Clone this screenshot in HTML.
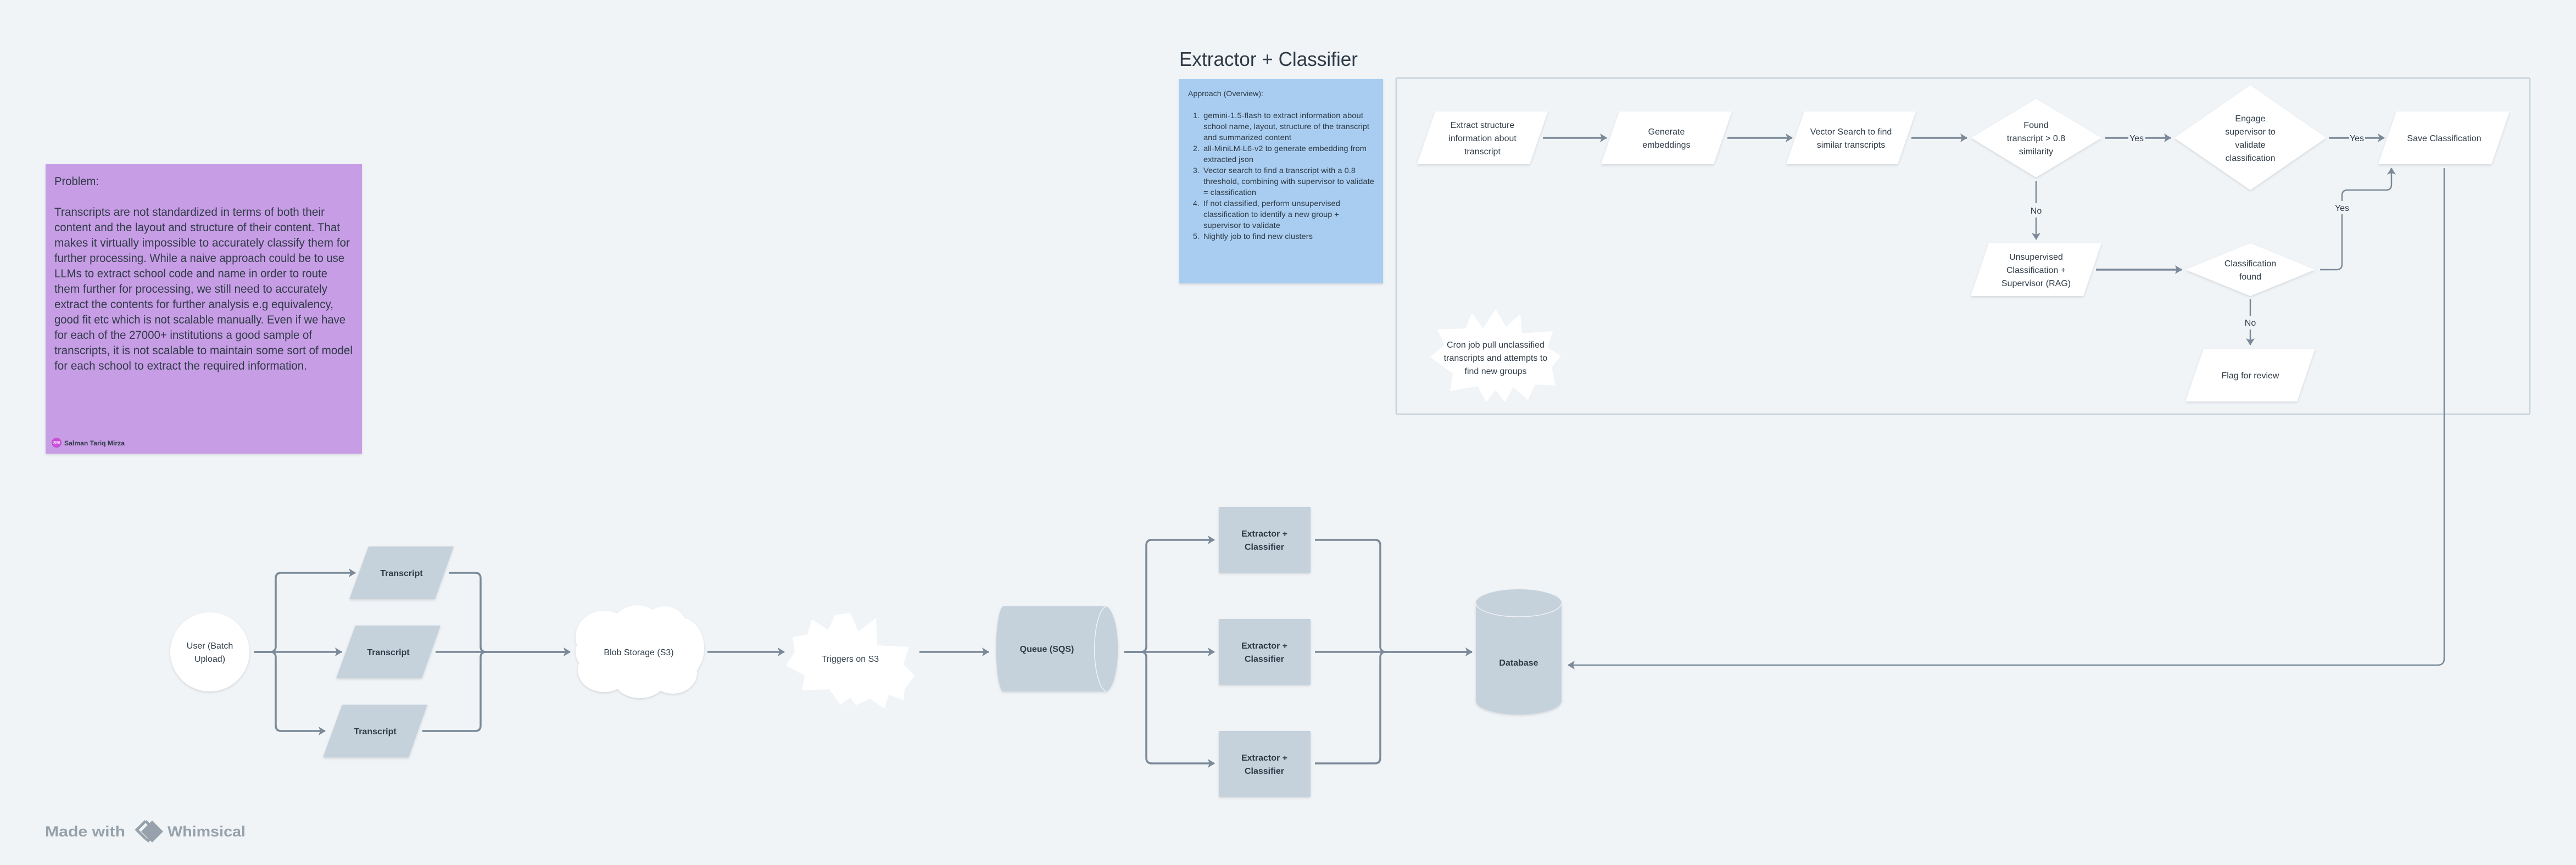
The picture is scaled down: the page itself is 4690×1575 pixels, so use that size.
<!DOCTYPE html>
<html><head><meta charset="utf-8">
<style>
html,body{margin:0;padding:0;background:#f0f4f7;}
svg{display:block;}
text{font-family:"Liberation Sans",sans-serif;fill:#2f3b47;}
.n{font-size:16px;text-anchor:middle;}
.b{font-size:16px;font-weight:bold;text-anchor:middle;}
.l{font-size:16px;text-anchor:middle;}
.c{fill:none;stroke:#7b8998;stroke-width:3.5;}
.c2{fill:none;stroke:#7b8998;stroke-width:2.5;}
.w{fill:#ffffff;}
.g{fill:#c5d1db;}
</style></head>
<body>
<svg width="4690" height="1575" viewBox="0 0 4690 1575" xmlns="http://www.w3.org/2000/svg">
<defs>
<marker id="a" markerUnits="userSpaceOnUse" markerWidth="14" markerHeight="16" refX="12" refY="8" orient="auto">
<path d="M0,0 L13,8 L0,16 L3,8 Z" fill="#7b8998"/>
</marker>
<filter id="sh" x="-5%" y="-5%" width="110%" height="115%"><feDropShadow dx="0" dy="2" stdDeviation="2" flood-color="#000" flood-opacity="0.12"/></filter>
</defs>
<rect width="4690" height="1575" fill="#f0f4f7"/>

<!-- Problem card -->
<rect x="83" y="299" width="576" height="527" fill="#c79de5" filter="url(#sh)"/>
<g font-size="21">
<text x="99" y="337" textLength="81" lengthAdjust="spacingAndGlyphs">Problem:</text>
<text x="99" y="393" textLength="492" lengthAdjust="spacingAndGlyphs">Transcripts are not standardized in terms of both their</text>
<text x="99" y="421" textLength="520" lengthAdjust="spacingAndGlyphs">content and the layout and structure of their content. That</text>
<text x="99" y="449" textLength="538" lengthAdjust="spacingAndGlyphs">makes it virtually impossible to accurately classify them for</text>
<text x="99" y="477" textLength="528" lengthAdjust="spacingAndGlyphs">further processing. While a naive approach could be to use</text>
<text x="99" y="505" textLength="497" lengthAdjust="spacingAndGlyphs">LLMs to extract school code and name in order to route</text>
<text x="99" y="533" textLength="497" lengthAdjust="spacingAndGlyphs">them further for processing, we still need to accurately</text>
<text x="99" y="561" textLength="508" lengthAdjust="spacingAndGlyphs">extract the contents for further analysis e.g equivalency,</text>
<text x="99" y="589" textLength="530" lengthAdjust="spacingAndGlyphs">good fit etc which is not scalable manually. Even if we have</text>
<text x="99" y="617" textLength="469" lengthAdjust="spacingAndGlyphs">for each of the 27000+ institutions a good sample of</text>
<text x="99" y="645" textLength="543" lengthAdjust="spacingAndGlyphs">transcripts, it is not scalable to maintain some sort of model</text>
<text x="99" y="673" textLength="460" lengthAdjust="spacingAndGlyphs">for each school to extract the required information.</text>
</g>
<circle cx="103" cy="806" r="9" fill="#c94fd8"/>
<text x="103" y="809" font-size="8" font-weight="bold" text-anchor="middle" style="fill:#fff">SM</text>
<text x="117" y="811" font-size="12" font-weight="bold" textLength="110" lengthAdjust="spacingAndGlyphs">Salman Tariq Mirza</text>

<!-- Title -->
<text x="2147" y="120" font-size="36" textLength="325" lengthAdjust="spacingAndGlyphs">Extractor + Classifier</text>

<!-- Approach card -->
<rect x="2147" y="144" width="371" height="372" fill="#a9cdf0" filter="url(#sh)"/>
<g font-size="14">
<text x="2163" y="175" textLength="137" lengthAdjust="spacingAndGlyphs">Approach (Overview):</text>
<text x="2172" y="215">1.</text><text x="2191" y="215" textLength="291" lengthAdjust="spacingAndGlyphs">gemini-1.5-flash to extract information about</text>
<text x="2191" y="235" textLength="302" lengthAdjust="spacingAndGlyphs">school name, layout, structure of the transcript</text>
<text x="2191" y="255" textLength="160" lengthAdjust="spacingAndGlyphs">and summarized content</text>
<text x="2172" y="275">2.</text><text x="2191" y="275" textLength="297" lengthAdjust="spacingAndGlyphs">all-MiniLM-L6-v2 to generate embedding from</text>
<text x="2191" y="295" textLength="91" lengthAdjust="spacingAndGlyphs">extracted json</text>
<text x="2172" y="315">3.</text><text x="2191" y="315" textLength="277" lengthAdjust="spacingAndGlyphs">Vector search to find a transcript with a 0.8</text>
<text x="2191" y="335" textLength="311" lengthAdjust="spacingAndGlyphs">threshold, combining with supervisor to validate</text>
<text x="2191" y="355" textLength="96" lengthAdjust="spacingAndGlyphs">= classification</text>
<text x="2172" y="375">4.</text><text x="2191" y="375" textLength="249" lengthAdjust="spacingAndGlyphs">If not classified, perform unsupervised</text>
<text x="2191" y="395" textLength="247" lengthAdjust="spacingAndGlyphs">classification to identify a new group +</text>
<text x="2191" y="415" textLength="140" lengthAdjust="spacingAndGlyphs">supervisor to validate</text>
<text x="2172" y="435">5.</text><text x="2191" y="435" textLength="199" lengthAdjust="spacingAndGlyphs">Nightly job to find new clusters</text>
</g>

<!-- Container -->
<rect x="2542" y="142" width="2064" height="612" fill="#f0f4f7" stroke="#c8d2da" stroke-width="2.5" rx="2"/>

<!-- top flow nodes -->
<g class="w" filter="url(#sh)">
<polygon points="2613,203 2818,203 2785,299 2580,299"/>
<polygon points="2948,203 3153,203 3120,299 2915,299"/>
<polygon points="3285,203 3488,203 3455,299 3252,299"/>
<polygon points="3707,180 3826,251 3707,323 3589,251"/>
<polygon points="4097,155 4235,251 4097,346 3959,251"/>
<polygon points="4363,203 4569,203 4536,299 4330,299"/>
<polygon points="3621,443 3826,443 3793,539 3588,539"/>
<polygon points="4097,443 4215,491 4097,539 3979,491"/>
<polygon points="4012,635 4215,635 4182,731 3979,731"/>
</g>
<text class="n" x="2699" y="233">Extract structure</text>
<text class="n" x="2699" y="257">information about</text>
<text class="n" x="2699" y="281">transcript</text>
<text class="n" x="3034" y="245">Generate</text>
<text class="n" x="3034" y="269">embeddings</text>
<text class="n" x="3370" y="245">Vector Search to find</text>
<text class="n" x="3370" y="269">similar transcripts</text>
<text class="n" x="3707" y="233">Found</text>
<text class="n" x="3707" y="257">transcript &gt; 0.8</text>
<text class="n" x="3707" y="281">similarity</text>
<text class="n" x="4097" y="221">Engage</text>
<text class="n" x="4097" y="245">supervisor to</text>
<text class="n" x="4097" y="269">validate</text>
<text class="n" x="4097" y="293">classification</text>
<text class="n" x="4450" y="257">Save Classification</text>
<text class="n" x="3707" y="473">Unsupervised</text>
<text class="n" x="3707" y="497">Classification +</text>
<text class="n" x="3707" y="521">Supervisor (RAG)</text>
<text class="n" x="4097" y="485">Classification</text>
<text class="n" x="4097" y="509">found</text>
<text class="n" x="4097" y="689">Flag for review</text>

<!-- cron starburst -->
<polygon class="w" points="2723,563 2742,595 2768,572 2771,607 2827,603 2818,633 2842,648 2825,668 2832,702 2795,700 2782,728 2755,705 2740,732 2723,710 2706,732 2690,703 2640,712 2645,680 2604,650 2630,628 2617,600 2668,598 2680,570 2700,598"/>
<text class="n" x="2723" y="633">Cron job pull unclassified</text>
<text class="n" x="2723" y="657">transcripts and attempts to</text>
<text class="n" x="2723" y="681">find new groups</text>

<!-- top connectors -->
<path class="c" d="M2809,251 H2925" marker-end="url(#a)"/>
<path class="c" d="M3145,251 H3263" marker-end="url(#a)"/>
<path class="c" d="M3480,251 H3581" marker-end="url(#a)"/>
<path class="c" d="M3833,251 H3875 M3906,251 H3952" marker-end="url(#a)"/>
<text class="l" x="3890" y="257">Yes</text>
<path class="c" d="M4240,251 H4277 M4306,251 H4341" marker-end="url(#a)"/>
<text class="l" x="4291" y="257">Yes</text>
<path class="c2" d="M3707,330 V370 M3707,396 V436" marker-end="url(#a)"/>
<text class="l" x="3707" y="389">No</text>
<path class="c" d="M3816,491 H3972" marker-end="url(#a)"/>
<path class="c2" d="M4097,545 V575 M4097,600 V628" marker-end="url(#a)"/>
<text class="l" x="4097" y="593">No</text>
<path class="c2" d="M4224,491 H4254 Q4264,491 4264,481 V390 M4264,366 V356 Q4264,346 4274,346 H4344 Q4354,346 4354,336 V306" marker-end="url(#a)"/>
<text class="l" x="4264" y="384">Yes</text>
<path class="c2" d="M4450,306 V1199 Q4450,1211 4438,1211 H2855" marker-end="url(#a)"/>

<!-- bottom flow -->
<ellipse class="w" cx="382" cy="1187" rx="72" ry="72" filter="url(#sh)"/>
<text class="n" x="382" y="1181">User (Batch</text>
<text class="n" x="382" y="1205">Upload)</text>
<g class="g" filter="url(#sh)">
<polygon points="671,995 826,995 792,1091 636,1091"/>
<polygon points="647,1139 802,1139 768,1235 612,1235"/>
<polygon points="623,1283 778,1283 744,1379 588,1379"/>
</g>
<text class="b" x="731" y="1049">Transcript</text>
<text class="b" x="707" y="1193">Transcript</text>
<text class="b" x="683" y="1337">Transcript</text>
<path class="c" d="M462,1187 H492 Q502,1187 502,1177 V1053 Q502,1043 512,1043 H647" marker-end="url(#a)"/>
<path class="c" d="M462,1187 H622" marker-end="url(#a)"/>
<path class="c" d="M462,1187 H492 Q502,1187 502,1197 V1321 Q502,1331 512,1331 H592" marker-end="url(#a)"/>
<path class="c" d="M817,1043 H865 Q875,1043 875,1053 V1177 Q875,1187 885,1187 H1038" marker-end="url(#a)"/>
<path class="c" d="M793,1187 H1038" marker-end="url(#a)"/>
<path class="c" d="M769,1331 H865 Q875,1331 875,1321 V1197 Q875,1187 885,1187"/>

<!-- cloud -->
<g class="w" filter="url(#sh)">
<ellipse cx="1163" cy="1187" rx="115" ry="62"/>
<ellipse cx="1100" cy="1160" rx="52" ry="48"/>
<ellipse cx="1160" cy="1140" rx="45" ry="38"/>
<ellipse cx="1210" cy="1140" rx="40" ry="36"/>
<ellipse cx="1240" cy="1180" rx="42" ry="55"/>
<ellipse cx="1225" cy="1225" rx="44" ry="38"/>
<ellipse cx="1165" cy="1235" rx="48" ry="36"/>
<ellipse cx="1100" cy="1220" rx="48" ry="40"/>
</g>
<text class="n" x="1163" y="1193">Blob Storage (S3)</text>
<path class="c" d="M1288,1187 H1428" marker-end="url(#a)"/>

<!-- triggers starburst -->
<polygon class="w" points="1548,1116 1563,1150 1595,1125 1597,1175 1655,1178 1645,1210 1665,1230 1647,1255 1645,1275 1618,1265 1610,1290 1584,1272 1558,1284 1548,1270 1530,1283 1510,1255 1460,1257 1465,1230 1431,1212 1447,1187 1443,1160 1470,1155 1478,1128 1508,1147 1520,1120"/>
<text class="n" x="1548" y="1205">Triggers on S3</text>
<path class="c" d="M1674,1187 H1800" marker-end="url(#a)"/>

<!-- queue cylinder -->
<path class="g" filter="url(#sh)" d="M1826,1104 H2014 A24,78 0 0 1 2014,1259 H1826 A14,78 0 0 1 1826,1104 Z"/>
<path d="M2014,1104 A24,78 0 0 0 2014,1259" fill="none" stroke="#eef2f5" stroke-width="1.5"/>
<text class="b" x="1906" y="1187">Queue (SQS)</text>
<path class="c" d="M2047,1187 H2077 Q2087,1187 2087,1177 V993 Q2087,983 2097,983 H2211" marker-end="url(#a)"/>
<path class="c" d="M2047,1187 H2211" marker-end="url(#a)"/>
<path class="c" d="M2047,1187 H2077 Q2087,1187 2087,1197 V1380 Q2087,1390 2097,1390 H2211" marker-end="url(#a)"/>
<g class="g" filter="url(#sh)">
<rect x="2219" y="923" width="167" height="120" rx="2"/>
<rect x="2219" y="1127" width="167" height="120" rx="2"/>
<rect x="2219" y="1331" width="167" height="120" rx="2"/>
</g>
<text class="b" x="2302" y="977">Extractor +</text><text class="b" x="2302" y="1001">Classifier</text>
<text class="b" x="2302" y="1181">Extractor +</text><text class="b" x="2302" y="1205">Classifier</text>
<text class="b" x="2302" y="1385">Extractor +</text><text class="b" x="2302" y="1409">Classifier</text>
<path class="c" d="M2394,983 H2503 Q2513,983 2513,993 V1177 Q2513,1187 2523,1187 H2680" marker-end="url(#a)"/>
<path class="c" d="M2394,1187 H2680" marker-end="url(#a)"/>
<path class="c" d="M2394,1390 H2503 Q2513,1390 2513,1380 V1197 Q2513,1187 2523,1187"/>

<!-- database -->
<path class="g" filter="url(#sh)" d="M2687,1098 A78,25 0 0 1 2843,1098 V1276 A78,25 0 0 1 2687,1276 Z"/>
<path d="M2687,1098 A78,25 0 0 0 2843,1098" fill="none" stroke="#eef2f5" stroke-width="1.5"/>
<text class="b" x="2765" y="1212">Database</text>

<!-- watermark -->
<text x="82" y="1523" font-size="27" font-weight="bold" style="fill:#96a1ab" textLength="146" lengthAdjust="spacingAndGlyphs">Made with</text>
<g fill="none" stroke="#96a1ab" stroke-width="5">
<path d="M265,1495 L249,1511 L265,1527"/>
</g>
<polygon points="277,1494 297,1514 277,1534 257,1514" fill="#96a1ab"/>
<path d="M265,1495 L272,1502 M265,1527 L272,1532" stroke="#96a1ab" stroke-width="5"/>
<text x="305" y="1523" font-size="27" font-weight="bold" style="fill:#96a1ab" textLength="142" lengthAdjust="spacingAndGlyphs">Whimsical</text>
</svg>
</body></html>
